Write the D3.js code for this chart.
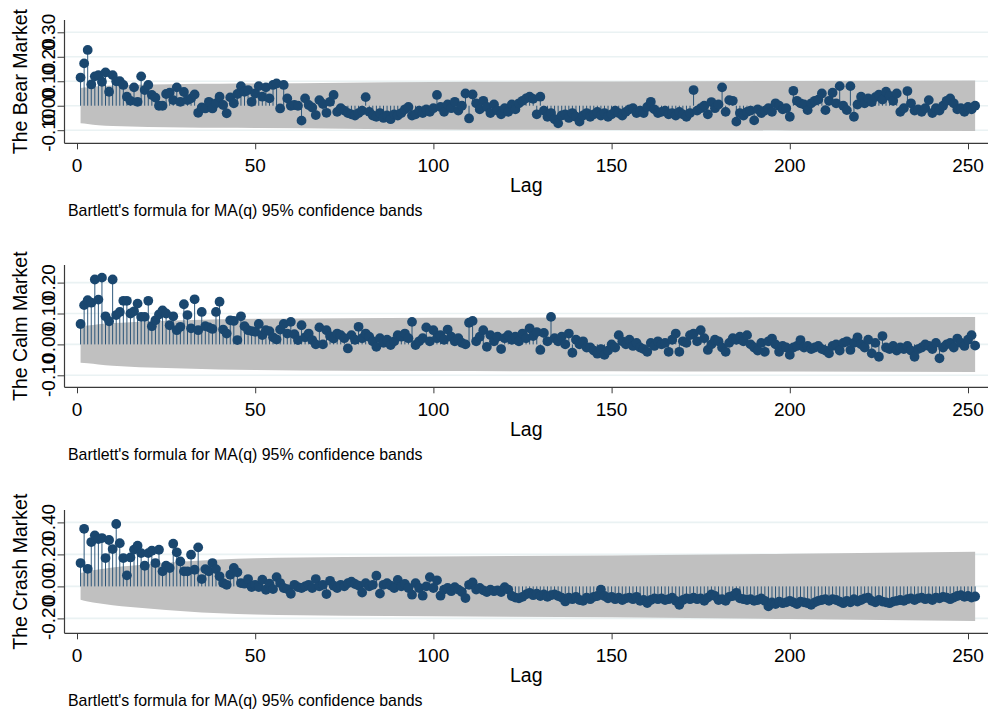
<!DOCTYPE html>
<html>
<head>
<meta charset="utf-8">
<script src="https://cdn.jsdelivr.net/npm/d3@7"></script>
<style>
  html, body { margin: 0; padding: 0; background: #ffffff; }
  svg { display: block; }
  text { font-family: "Liberation Sans", Arial, Helvetica, sans-serif; fill: #000; }
</style>
</head>
<body>
<svg id="chart" width="989" height="714"></svg>
<script>
// Autocorrelations by lag (lags 1..252) for each market regime
const bearAcf = [
  0.115, 0.173, 0.228, 0.087, 0.120, 0.125, 0.098, 0.136, 0.057, 0.125,
  0.100, 0.100, 0.085, 0.037, 0.020, 0.075, 0.016, 0.120, 0.064, 0.085,
  0.044, 0.033, 0.000, 0.000, 0.048, 0.053, 0.023, 0.075, 0.016, 0.056,
  0.023, 0.030, 0.046, -0.029, -0.007, -0.011, 0.016, -0.011, 0.010, 0.037,
  0.003, -0.031, 0.034, 0.010, 0.048, 0.080, 0.057, 0.064, 0.016, 0.050,
  0.080, 0.037, 0.075, 0.030, 0.085, 0.091, -0.011, 0.085, 0.030, 0.000,
  0.003, 0.000, -0.061, 0.030, 0.003, -0.007, -0.038, 0.023, 0.007, -0.029,
  0.016, 0.044, -0.025, -0.010, -0.020, -0.030, -0.035, -0.040, -0.030, -0.020,
  0.035, -0.025, -0.040, -0.045, -0.030, -0.050, -0.040, -0.055, -0.035, -0.040,
  -0.030, -0.015, -0.005, -0.040, -0.035, -0.020, -0.030, -0.015, -0.025, -0.010,
  0.044, -0.005, -0.025, 0.005, -0.010, 0.016, -0.020, 0.000, 0.050, -0.052,
  0.046, 0.010, -0.015, 0.020, -0.005, -0.030, 0.005, -0.020, -0.035, -0.010,
  -0.025, 0.005, -0.015, 0.010, 0.020, 0.030, 0.037, 0.028, -0.035, 0.037,
  -0.020, -0.045, -0.030, -0.055, -0.072, -0.040, -0.035, -0.050, -0.030, -0.045,
  -0.065, -0.040, -0.030, -0.045, -0.035, -0.025, -0.040, -0.030, -0.045, -0.035,
  -0.020, -0.030, -0.040, -0.025, -0.015, -0.010, -0.030, -0.020, -0.030, -0.005,
  0.016, -0.015, -0.030, -0.025, -0.020, -0.035, -0.030, -0.040, -0.025, -0.035,
  -0.045, -0.030, 0.064, -0.020, -0.010, 0.000, -0.035, 0.015, -0.010, 0.005,
  0.075, -0.025, 0.023, 0.020, -0.065, -0.030, -0.040, -0.025, -0.020, -0.060,
  -0.015, -0.030, -0.020, -0.010, -0.025, 0.010, 0.000, -0.015, -0.010, -0.045,
  0.061, 0.020, 0.010, 0.005, -0.018, 0.010, 0.020, 0.025, 0.050, -0.018,
  0.020, 0.053, 0.010, 0.080, 0.000, -0.018, 0.080, -0.045, 0.005, 0.037,
  0.010, 0.030, 0.015, 0.035, 0.045, 0.025, 0.057, 0.040, 0.020, 0.050,
  -0.025, -0.010, 0.060, 0.010, -0.020, -0.015, -0.025, -0.010, 0.023, -0.030,
  -0.010, -0.020, 0.000, 0.020, 0.030, 0.010, -0.015, -0.010, -0.025, -0.005,
  -0.015, 0.000
];

const calmAcf = [
  0.066, 0.127, 0.143, 0.135, 0.210, 0.145, 0.216, 0.091, 0.075, 0.210,
  0.095, 0.105, 0.141, 0.141, 0.100, 0.107, 0.132, 0.089, 0.089, 0.141,
  0.059, 0.078, 0.097, 0.110, 0.100, 0.062, 0.091, 0.046, 0.057, 0.130,
  0.095, 0.052, 0.146, 0.046, 0.105, 0.059, 0.055, 0.050, 0.105, 0.138,
  0.048, 0.035, 0.078, 0.076, 0.014, 0.091, 0.059, 0.046, 0.043, 0.041,
  0.066, 0.030, 0.046, 0.043, 0.023, 0.016, 0.048, 0.066, 0.035, 0.073,
  0.033, 0.014, 0.062, 0.023, 0.035, 0.014, 0.000, 0.055, 0.000, 0.046,
  0.027, 0.019, 0.035, 0.030, 0.020, -0.013, 0.030, 0.015, 0.057, 0.020,
  0.035, 0.025, 0.010, -0.008, 0.020, 0.005, 0.015, -0.002, 0.010, 0.030,
  0.025, 0.035, 0.020, 0.073, -0.002, 0.010, 0.020, 0.055, 0.010, 0.046,
  0.020, 0.030, 0.015, 0.048, 0.025, 0.010, 0.020, 0.005, 0.000, 0.070,
  0.076, 0.010, 0.025, 0.046, -0.008, 0.030, 0.010, 0.025, -0.015, 0.020,
  0.030, 0.015, 0.025, 0.010, 0.035, 0.020, 0.052, 0.027, 0.040, -0.018,
  0.037, 0.010, 0.089, 0.020, 0.010, 0.025, 0.000, 0.035, -0.027, 0.015,
  0.000, 0.010, -0.010, -0.010, -0.020, -0.030, -0.015, -0.034, -0.020, 0.000,
  -0.010, 0.030, 0.010, 0.000, 0.015, -0.005, 0.005, -0.010, -0.015, -0.024,
  0.005, -0.005, 0.010, 0.000, 0.005, -0.024, 0.015, 0.035, -0.024, 0.010,
  0.005, 0.030, 0.035, 0.010, 0.046, 0.020, -0.018, 0.000, 0.015, 0.010,
  -0.010, -0.024, 0.005, 0.020, 0.015, 0.025, 0.010, 0.030, 0.000, -0.010,
  -0.020, 0.005, -0.024, 0.010, 0.019, 0.000, -0.024, -0.005, -0.010, -0.034,
  -0.010, -0.005, 0.014, -0.010, -0.005, -0.015, -0.010, -0.005, -0.015, -0.020,
  -0.029, -0.005, 0.000, -0.020, 0.005, 0.010, -0.018, 0.005, 0.023, 0.000,
  -0.010, 0.015, -0.029, 0.005, -0.040, 0.027, -0.010, -0.015, -0.005, -0.020,
  -0.010, -0.015, -0.005, -0.020, -0.040, -0.015, -0.010, 0.000, -0.005, -0.015,
  0.005, -0.045, -0.010, 0.000, 0.005, -0.010, 0.019, 0.005, -0.005, 0.015,
  0.030, -0.004
];

const crashAcf = [
  0.146, 0.360, 0.110, 0.277, 0.319, 0.296, 0.302, 0.177, 0.290, 0.233,
  0.390, 0.270, 0.177, 0.069, 0.181, 0.230, 0.254, 0.208, 0.129, 0.208,
  0.223, 0.146, 0.229, 0.094, 0.129, 0.115, 0.267, 0.213, 0.156, 0.094,
  0.094, 0.198, 0.104, 0.244, 0.046, 0.108, 0.094, 0.146, 0.108, 0.063,
  0.021, 0.010, 0.073, 0.115, 0.088, 0.021, 0.017, 0.046, -0.004, 0.010,
  -0.004, 0.042, -0.021, 0.017, -0.017, 0.058, 0.021, -0.010, -0.017, -0.046,
  0.010, -0.004, -0.010, 0.000, 0.010, -0.010, 0.046, 0.000, 0.010, -0.048,
  0.035, 0.004, -0.010, 0.010, 0.000, 0.020, 0.030, 0.015, 0.005, -0.038,
  0.020, 0.000, 0.010, 0.067, -0.045, 0.010, 0.020, 0.005, -0.010, 0.040,
  0.000, 0.015, -0.010, -0.052, 0.020, -0.010, -0.058, 0.000, 0.058, -0.010,
  0.038, -0.058, -0.020, -0.010, -0.030, -0.005, -0.020, -0.035, -0.073, 0.010,
  0.025, -0.020, -0.010, -0.025, -0.035, -0.020, -0.030, -0.025, -0.035, -0.005,
  -0.020, -0.060, -0.070, -0.075, -0.065, -0.050, -0.040, -0.055, -0.045, -0.060,
  -0.050, -0.065, -0.055, -0.050, -0.060, -0.070, -0.094, -0.070, -0.080, -0.065,
  -0.085, -0.090, -0.070, -0.080, -0.065, -0.060, -0.020, -0.060, -0.075, -0.065,
  -0.080, -0.070, -0.085, -0.075, -0.070, -0.080, -0.065, -0.090, -0.085, -0.104,
  -0.085, -0.075, -0.080, -0.075, -0.085, -0.080, -0.070, -0.090, -0.115, -0.085,
  -0.075, -0.080, -0.070, -0.080, -0.075, -0.090, -0.070, -0.050, -0.060, -0.085,
  -0.080, -0.090, -0.065, -0.060, -0.040, -0.075, -0.080, -0.085, -0.080, -0.090,
  -0.085, -0.075, -0.090, -0.125, -0.100, -0.110, -0.095, -0.105, -0.100, -0.090,
  -0.100, -0.110, -0.095, -0.100, -0.105, -0.115, -0.100, -0.090, -0.085, -0.080,
  -0.090, -0.080, -0.085, -0.095, -0.105, -0.090, -0.100, -0.080, -0.095, -0.085,
  -0.075, -0.070, -0.090, -0.100, -0.085, -0.095, -0.100, -0.105, -0.095, -0.090,
  -0.085, -0.090, -0.080, -0.075, -0.085, -0.075, -0.070, -0.080, -0.075, -0.085,
  -0.070, -0.075, -0.065, -0.070, -0.080, -0.070, -0.060, -0.055, -0.065, -0.060,
  -0.070, -0.063
];

// Bartlett 95% band half-widths at selected lags
const bandLags  = [1, 3, 6, 10, 15, 20, 30, 40, 50, 75, 100, 150, 200, 252];
const bearBand  = [0.072, 0.075, 0.080, 0.083, 0.085, 0.087, 0.089, 0.090, 0.091, 0.094, 0.097, 0.099, 0.101, 0.103];
const calmBand  = [0.059, 0.061, 0.065, 0.069, 0.072, 0.075, 0.078, 0.081, 0.083, 0.085, 0.086, 0.087, 0.088, 0.089];
const crashBand = [0.083, 0.095, 0.106, 0.118, 0.129, 0.138, 0.155, 0.168, 0.176, 0.183, 0.187, 0.193, 0.204, 0.216];

// Axis ticks
const lagTicks   = [0, 50, 100, 150, 200, 250];
const bearTicks  = [-0.1, 0, 0.1, 0.2, 0.3];
const calmTicks  = [-0.1, 0, 0.1, 0.2];
const crashTicks = [-0.2, 0, 0.2, 0.4];

const titles = ["The Bear Market", "The Calm Market", "The Crash Market"];
const noteText = "Bartlett's formula for MA(q) 95% confidence bands";
const xTitle = "Lag";

const lags = d3.range(1, bearAcf.length + 1);

// Per-panel frame: axis extent and pixel positions of the outer ticks
const panels = [
  { title: titles[0], acf: bearAcf,  band: bearBand,  ticks: bearTicks,  axisTop: 20,  axisBottom: 143.3, lowPx: 130.2, highPx: 32.3 },
  { title: titles[1], acf: calmAcf,  band: calmBand,  ticks: calmTicks,  axisTop: 265, axisBottom: 387.3, lowPx: 375.3, highPx: 282.6 },
  { title: titles[2], acf: crashAcf, band: crashBand, ticks: crashTicks, axisTop: 510, axisBottom: 633.3, lowPx: 618.4, highPx: 522.4 }
];

const svg = d3.select("#chart");
const axisLeft = 64.5, axisRight = 988;
const navy = "#1a476f";
const x = d3.scaleLinear().domain([0, 250]).range([77, 968]);
// plain hyphen for negatives
const fmt = v => d3.format(".2f")(v).replace("\u2212", "-");

panels.forEach(p => {
  const y = d3.scaleLinear()
    .domain([p.ticks[0], p.ticks[p.ticks.length - 1]])
    .range([p.lowPx, p.highPx]);
  const g = svg.append("g");

  // horizontal grid lines
  g.selectAll("line.grid").data(p.ticks).join("line")
    .attr("class", "grid")
    .attr("x1", axisLeft).attr("x2", axisRight)
    .attr("y1", d => y(d)).attr("y2", d => y(d))
    .attr("stroke", "#eaf2f3").attr("stroke-width", 1.6);

  // confidence band
  const bandPts = bandLags.map((l, i) => ({ lag: l, w: p.band[i] }));
  const area = d3.area()
    .x(d => x(d.lag))
    .y0(d => y(-d.w))
    .y1(d => y(d.w))
    .curve(d3.curveMonotoneX);
  g.append("path").datum(bandPts)
    .attr("d", area)
    .attr("fill", "#c0c0c0");

  const pts = lags.map((l, i) => ({ lag: l, v: p.acf[i] }));

  // stems
  g.selectAll("line.stem").data(pts).join("line")
    .attr("class", "stem")
    .attr("x1", d => x(d.lag)).attr("x2", d => x(d.lag))
    .attr("y1", y(0)).attr("y2", d => y(d.v))
    .attr("stroke", navy).attr("stroke-width", 0.9);

  // markers
  g.selectAll("circle").data(pts).join("circle")
    .attr("cx", d => x(d.lag)).attr("cy", d => y(d.v))
    .attr("r", 4.9)
    .attr("fill", navy);

  // y axis
  const yAxis = d3.axisLeft(y).tickValues(p.ticks).tickFormat("").tickSize(7);
  const ya = g.append("g").attr("transform", `translate(${axisLeft},0)`).call(yAxis);
  ya.select(".domain").attr("d", `M0,${p.axisTop}V${p.axisBottom}`);
  ya.selectAll("line").attr("stroke", "#3a3a3a");
  ya.select(".domain").attr("stroke", "#3a3a3a").attr("stroke-width", 1.2);

  // rotated y tick labels
  g.selectAll("text.ytl").data(p.ticks).join("text")
    .attr("class", "ytl")
    .attr("transform", d => `translate(55,${y(d)}) rotate(-90)`)
    .attr("text-anchor", "middle")
    .attr("font-size", 19)
    .text(d => fmt(d));

  // y title
  g.append("text")
    .attr("transform", `translate(27,${(p.axisTop + p.axisBottom) / 2}) rotate(-90)`)
    .attr("text-anchor", "middle")
    .attr("font-size", 19.5)
    .text(p.title);

  // x axis
  const xAxis = d3.axisBottom(x).tickValues(lagTicks).tickFormat("").tickSize(6);
  const xa = g.append("g").attr("transform", `translate(0,${p.axisBottom})`).call(xAxis);
  xa.select(".domain").attr("d", `M${axisLeft},0H${axisRight}`)
    .attr("stroke", "#3a3a3a").attr("stroke-width", 1.2);
  xa.selectAll("line").attr("stroke", "#3a3a3a");

  g.selectAll("text.xtl").data(lagTicks).join("text")
    .attr("class", "xtl")
    .attr("x", d => x(d)).attr("y", p.axisBottom + 29)
    .attr("text-anchor", "middle")
    .attr("font-size", 19)
    .text(d => d);

  g.append("text")
    .attr("x", (axisLeft + axisRight) / 2).attr("y", p.axisBottom + 49)
    .attr("text-anchor", "middle")
    .attr("font-size", 19.5)
    .text(xTitle);

  g.append("text")
    .attr("x", 68).attr("y", p.axisBottom + 72.5)
    .attr("font-size", 15.9)
    .text(noteText);
});
</script>
</body>
</html>
